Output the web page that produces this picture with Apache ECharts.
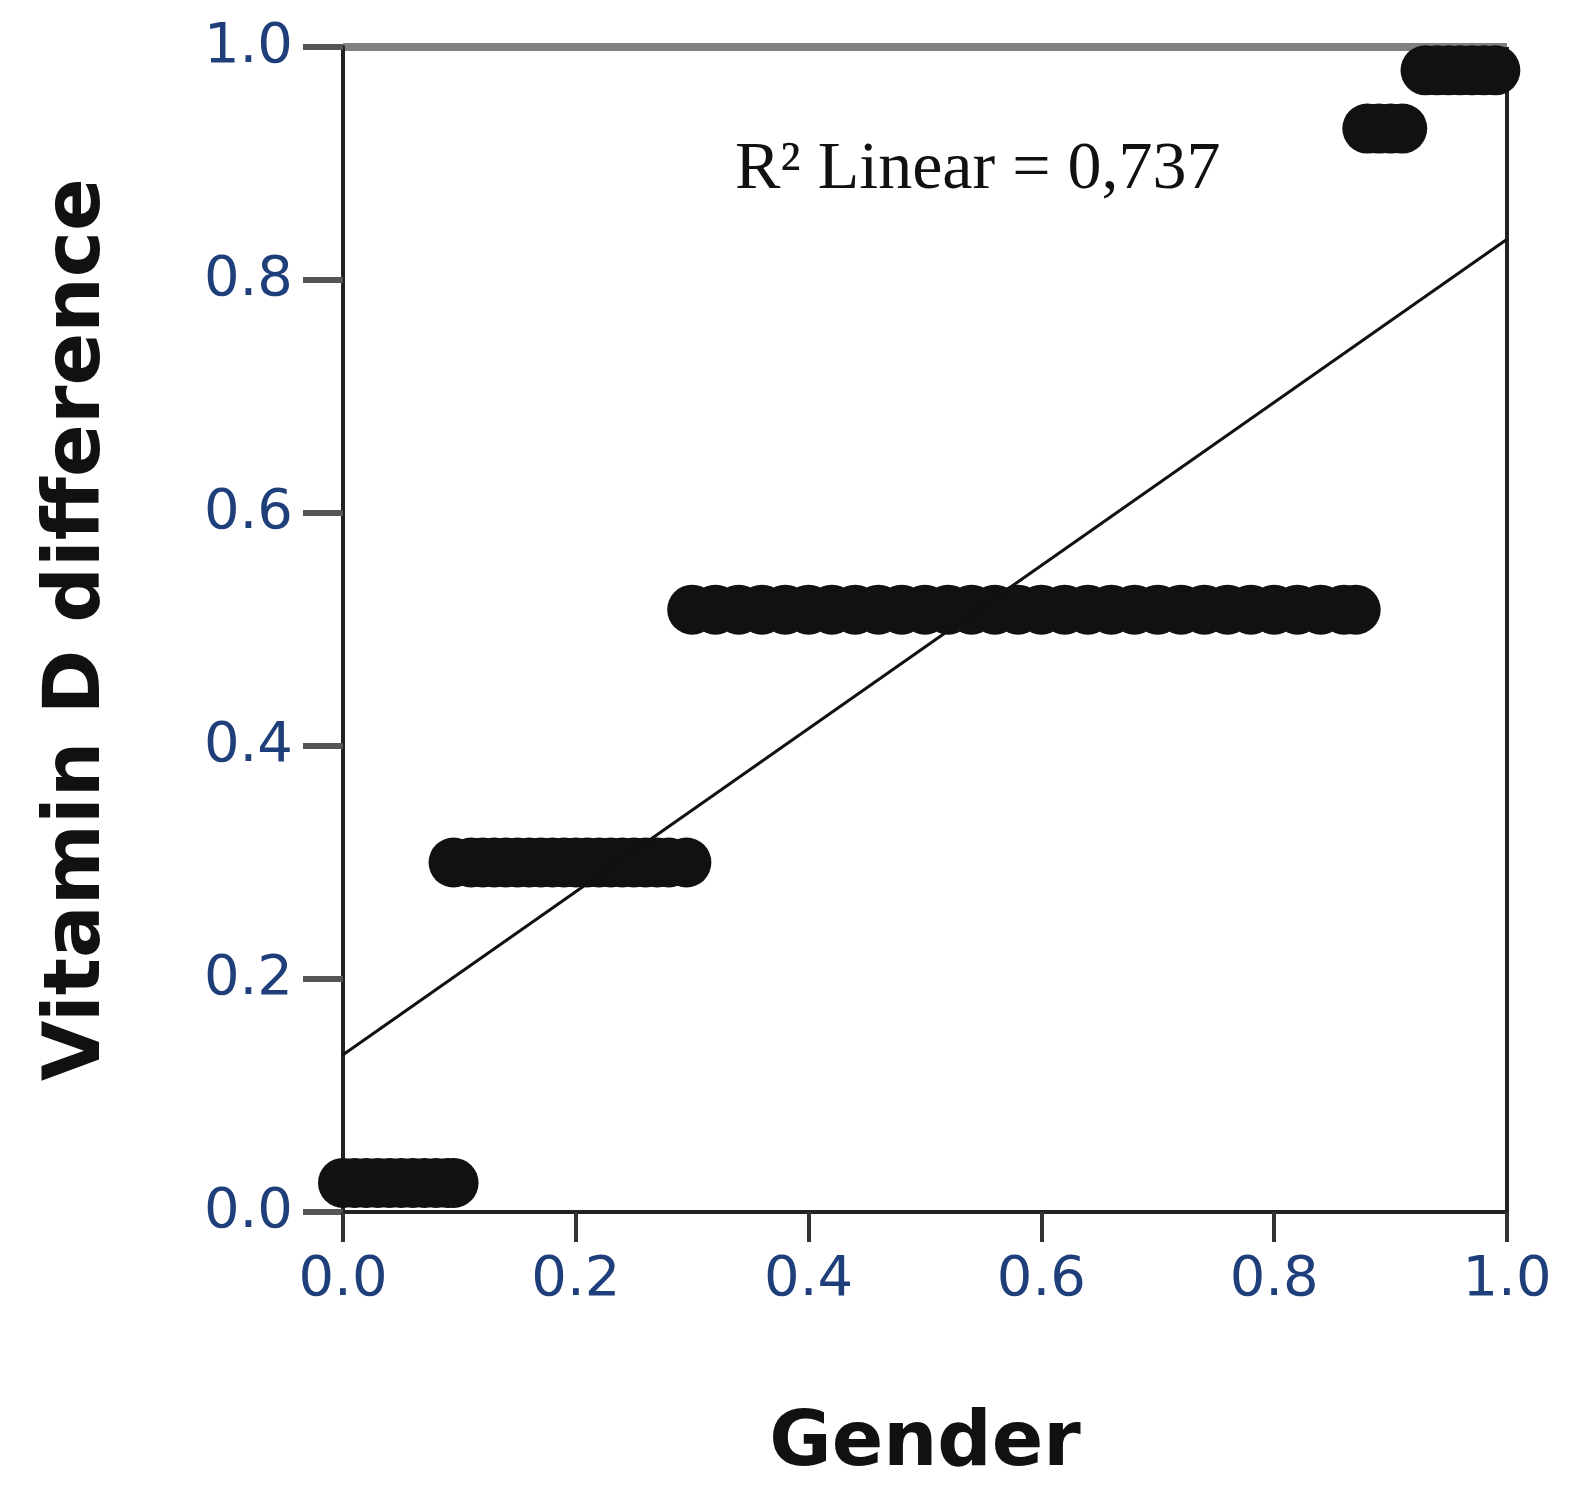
<!DOCTYPE html>
<html>
<head>
<meta charset="utf-8">
<script src="https://cdn.jsdelivr.net/npm/echarts@6/dist/echarts.min.js"></script>
<style>html,body{margin:0;padding:0;background:#fff}#chart{width:1579px;height:1510px}</style>
</head>
<body>
<div id="chart"></div>
<script>
var groupA = [[0.0,0.025],[0.01,0.025],[0.02,0.025],[0.03,0.025],[0.04,0.025],[0.05,0.025],[0.06,0.025],[0.07,0.025],[0.08,0.025],[0.09,0.025],[0.095,0.025]];
var groupB = [[0.095,0.30],[0.11,0.30],[0.12,0.30],[0.13,0.30],[0.14,0.30],[0.15,0.30],[0.16,0.30],[0.17,0.30],[0.18,0.30],
  [0.19,0.30],[0.20,0.30],[0.21,0.30],[0.22,0.30],[0.23,0.30],[0.24,0.30],[0.25,0.30],[0.26,0.30],[0.27,0.30],[0.28,0.30],[0.295,0.30]];
var groupC = [[0.30,0.517],[0.32,0.517],[0.34,0.517],[0.36,0.517],[0.38,0.517],[0.40,0.517],[0.42,0.517],[0.44,0.517],
  [0.46,0.517],[0.48,0.517],[0.50,0.517],[0.52,0.517],[0.54,0.517],[0.56,0.517],[0.58,0.517],[0.60,0.517],[0.62,0.517],
  [0.64,0.517],[0.66,0.517],[0.68,0.517],[0.70,0.517],[0.72,0.517],[0.74,0.517],[0.76,0.517],[0.78,0.517],[0.80,0.517],
  [0.82,0.517],[0.84,0.517],[0.86,0.517],[0.87,0.517]];
var groupD = [[0.88,0.93],[0.89,0.93],[0.90,0.93],[0.91,0.93]];
var groupE = [[0.93,0.98],[0.94,0.98],[0.95,0.98],[0.96,0.98],[0.97,0.98],[0.98,0.98],[0.99,0.98]];
var fitLine = [[0, 0.135], [1, 0.835]];

var chart = echarts.init(document.getElementById('chart'));
var labelStyle = { fontFamily: 'DejaVu Sans', fontSize: 56, color: '#1f3f7a', formatter: function (v) { return v.toFixed(1); } };
chart.setOption({
  animation: false,
  grid: { left: 343, right: 72, top: 47, bottom: 298 },
  xAxis: {
    type: 'value', min: 0, max: 1, interval: 0.2,
    name: 'Gender', nameLocation: 'middle', nameGap: 195,
    nameTextStyle: { fontFamily: 'DejaVu Sans', fontWeight: 'bold', fontSize: 76, color: '#111' },
    axisLine: { lineStyle: { color: '#222', width: 4 } },
    axisTick: { length: 30, lineStyle: { color: '#333', width: 4 } },
    axisLabel: Object.assign({ margin: 40 }, labelStyle),
    splitLine: { show: false }
  },
  yAxis: {
    type: 'value', min: 0, max: 1, interval: 0.2,
    name: 'Vitamin D difference', nameLocation: 'middle', nameGap: 225,
    nameTextStyle: { fontFamily: 'DejaVu Sans', fontWeight: 'bold', fontSize: 78, color: '#111' },
    axisLine: { lineStyle: { color: '#222', width: 4 } },
    axisTick: { length: 40, lineStyle: { color: '#555', width: 6 } },
    axisLabel: Object.assign({ margin: 50 }, labelStyle),
    splitLine: { show: false }
  },
  graphic: [
    { type: 'line', shape: { x1: 343, y1: 47, x2: 1507, y2: 47 }, style: { stroke: '#808080', lineWidth: 8 } },
    { type: 'line', shape: { x1: 1507, y1: 47, x2: 1507, y2: 1212 }, style: { stroke: '#222', lineWidth: 4 } },
    { type: 'text', left: 735, top: 136, style: { text: 'R² Linear = 0,737', font: '68px "Liberation Serif"', fill: '#111' } }
  ],
  series: [
    { type: 'line', data: fitLine, symbol: 'none', lineStyle: { color: '#111', width: 3 }, z: 3 },
    { type: 'scatter', data: [].concat(groupA, groupB, groupC, groupD, groupE), symbol: 'circle',
      symbolSize: 50, itemStyle: { color: '#111', opacity: 1 }, z: 2 }
  ]
});
</script>
</body>
</html>
